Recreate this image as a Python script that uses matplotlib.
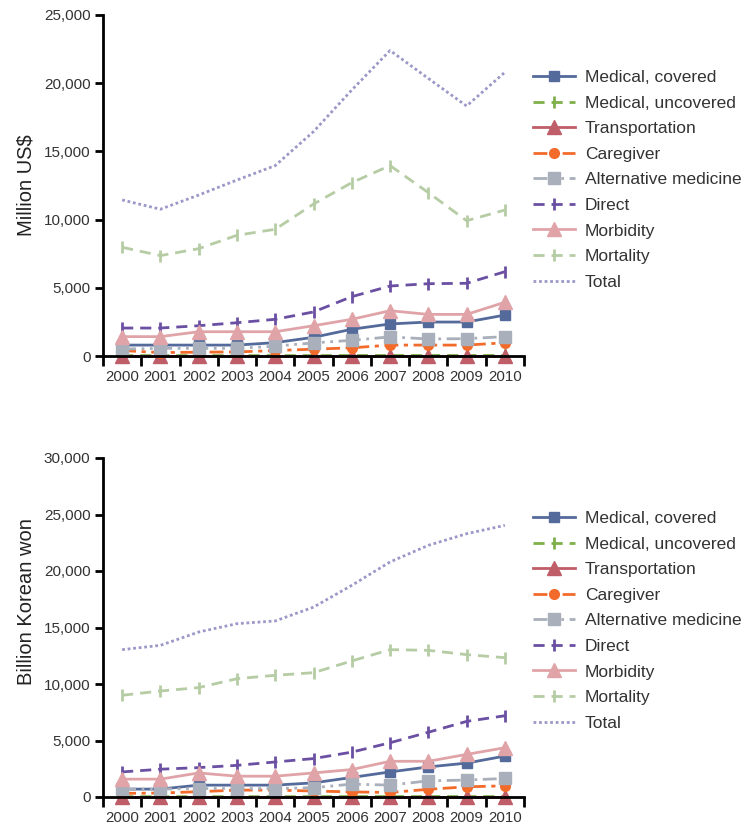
import matplotlib
matplotlib.use("Agg")
import matplotlib.pyplot as plt
from matplotlib.ticker import FuncFormatter, FixedLocator

plt.rcParams["font.family"] = ["Liberation Sans", "DejaVu Sans"]

years = ["2000", "2001", "2002", "2003", "2004", "2005",
         "2006", "2007", "2008", "2009", "2010"]
labels = ["Medical, covered", "Medical, uncovered", "Transportation", "Caregiver",
          "Alternative medicine", "Direct", "Morbidity", "Mortality", "Total"]

# top panel, million US$
usd_medical_covered = [800, 800, 800, 800, 980, 1370, 1960, 2350, 2490, 2490, 3000]
usd_medical_uncovered = [30, 30, 30, 30, 30, 30, 40, 40, 40, 40, 40]
usd_transportation = [10, 10, 10, 10, 10, 10, 10, 10, 10, 10, 10]
usd_caregiver = [400, 250, 280, 300, 400, 500, 600, 800, 800, 800, 970]
usd_alternative = [510, 560, 560, 560, 720, 960, 1150, 1400, 1250, 1270, 1420]
usd_direct = [2050, 2050, 2220, 2440, 2690, 3230, 4350, 5130, 5300, 5330, 6180]
usd_morbidity = [1420, 1420, 1780, 1780, 1780, 2220, 2690, 3320, 3050, 3050, 3940]
usd_mortality = [7970, 7360, 7870, 8850, 9290, 11140, 12710, 13960, 11980, 9920, 10700]
usd_total = [11440, 10760, 11800, 12900, 13960, 16450, 19500, 22400, 20350, 18330, 20800]

# bottom panel, billion Korean won
krw_medical_covered = [700, 700, 1050, 1050, 1050, 1250, 1730, 2220, 2660, 3000, 3620]
krw_medical_uncovered = [30, 30, 30, 30, 30, 30, 40, 40, 40, 40, 40]
krw_transportation = [10, 10, 10, 10, 10, 10, 10, 10, 10, 10, 10]
krw_caregiver = [320, 350, 470, 610, 610, 530, 450, 400, 680, 900, 990]
krw_alternative = [700, 700, 750, 750, 750, 820, 1140, 1050, 1430, 1500, 1640]
krw_direct = [2220, 2460, 2600, 2800, 3100, 3400, 3970, 4800, 5730, 6690, 7190]
krw_morbidity = [1580, 1580, 2130, 1840, 1840, 2130, 2430, 3160, 3160, 3770, 4360]
krw_mortality = [9000, 9380, 9680, 10470, 10770, 11000, 12040, 13040, 12980, 12600, 12330]
krw_total = [13040, 13420, 14600, 15340, 15580, 16800, 18730, 20800, 22270, 23300, 24040]

STYLES = [
    dict(color="#546a9b", ls="-", marker="s", ms=7.5),
    dict(color="#7fb04a", ls=(0, (4, 2.5)), marker="|", ms=8, mew=2),
    dict(color="#bf5d68", ls="-", marker="^", ms=9.5),
    dict(color="#f26b2a", ls=(0, (5, 2, 1.5, 2)), marker="o", ms=7),
    dict(color="#a9b0bb", ls=(0, (5, 2, 1, 2, 1, 2)), marker="s", ms=8.5),
    dict(color="#6a4fa3", ls=(0, (4, 2.5)), marker="|", ms=8, mew=2),
    dict(color="#e0a4a8", ls="-", marker="^", ms=10),
    dict(color="#b5cca4", ls=(0, (4, 2.5)), marker="|", ms=8, mew=2),
    dict(color="#9b98c8", ls=(0, (1, 1)), marker=None),
]


def draw_panel(ax, series, ymax, ylabel, legend_top, label_y=0.5):
    x = list(range(len(years)))
    for vals, lab, st in zip(series, labels, STYLES):
        st = dict(st)
        ax.plot(x, vals, label=lab, lw=2, linestyle=st.pop("ls"), clip_on=False, **st)

    ax.set_xlim(-0.5, len(years) - 0.5)
    ax.set_ylim(0, ymax)
    ax.set_yticks(range(0, ymax + 1, 5000))
    ax.yaxis.set_major_formatter(FuncFormatter(lambda v, p: f"{int(v):,}"))
    ax.xaxis.set_major_locator(FixedLocator([i - 0.5 for i in range(len(years) + 1)]))
    ax.xaxis.set_minor_locator(FixedLocator(x))
    ax.set_xticklabels([])
    ax.set_xticklabels(years, minor=True)
    ax.tick_params(axis="x", which="major", length=7, width=2, direction="out")
    ax.tick_params(axis="x", which="minor", length=0, pad=10, labelsize=10.8, colors="#333333")
    ax.tick_params(axis="y", length=6, width=2, direction="out", labelsize=11,
                   colors="#333333", pad=3)
    ax.tick_params(axis="both", color="black")
    for s in ("top", "right"):
        ax.spines[s].set_visible(False)
    for s in ("left", "bottom"):
        ax.spines[s].set_linewidth(2)
    ax.set_ylabel(ylabel, fontsize=14.5, color="#222222", labelpad=6, y=label_y)

    ax.legend(loc="upper left", bbox_to_anchor=(533 / 747, legend_top),
              bbox_transform=ax.figure.transFigure, frameon=False,
              fontsize=12.5, borderpad=0, borderaxespad=0, handlelength=2.4,
              handletextpad=0.6, labelspacing=0.6, labelcolor="#333333")


fig = plt.figure(figsize=(7.47, 8.27), dpi=100)
ax1 = fig.add_axes([103 / 747, 1 - 356 / 827, 421 / 747, 341 / 827])
ax2 = fig.add_axes([103 / 747, 1 - 797 / 827, 421 / 747, 339 / 827])

draw_panel(ax1, [usd_medical_covered, usd_medical_uncovered, usd_transportation,
                 usd_caregiver, usd_alternative, usd_direct, usd_morbidity,
                 usd_mortality, usd_total], 25000, "Million US$", 1 - 70 / 827)
draw_panel(ax2, [krw_medical_covered, krw_medical_uncovered, krw_transportation,
                 krw_caregiver, krw_alternative, krw_direct, krw_morbidity,
                 krw_mortality, krw_total], 30000, "Billion Korean won", 1 - 511 / 827,
           label_y=0.577)

fig.savefig("out.png", dpi=100)
